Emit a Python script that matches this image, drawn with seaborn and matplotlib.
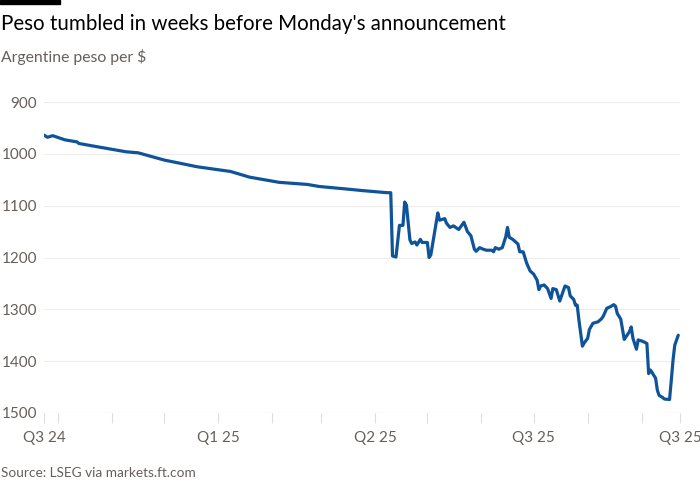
import pandas as pd
import matplotlib.pyplot as plt
import matplotlib.dates as mdates
from matplotlib.ticker import FixedLocator
import seaborn as sns

# Argentine peso per $
dates = [
    '2024-09-23', '2024-09-25', '2024-09-28', '2024-10-05', '2024-10-12', '2024-10-13',
    '2024-10-23', '2024-11-09', '2024-11-16', '2024-12-01', '2024-12-20', '2025-01-08',
    '2025-01-19', '2025-02-05', '2025-02-21', '2025-02-28', '2025-03-16', '2025-03-25',
    '2025-04-08', '2025-04-10', '2025-04-11', '2025-04-13', '2025-04-15', '2025-04-17',
    '2025-04-18', '2025-04-19', '2025-04-21', '2025-04-22', '2025-04-24', '2025-04-25',
    '2025-04-27', '2025-04-28', '2025-05-01', '2025-05-02', '2025-05-03', '2025-05-07',
    '2025-05-08', '2025-05-11', '2025-05-12', '2025-05-14', '2025-05-16', '2025-05-19',
    '2025-05-22', '2025-05-24', '2025-05-26', '2025-05-28', '2025-05-29', '2025-05-31',
    '2025-06-02', '2025-06-04', '2025-06-07', '2025-06-08', '2025-06-09', '2025-06-11',
    '2025-06-13', '2025-06-15', '2025-06-16', '2025-06-17', '2025-06-19', '2025-06-21',
    '2025-06-22', '2025-06-23', '2025-06-25', '2025-06-27', '2025-06-29', '2025-07-01',
    '2025-07-03', '2025-07-04', '2025-07-05', '2025-07-07', '2025-07-09', '2025-07-11',
    '2025-07-12', '2025-07-14', '2025-07-16', '2025-07-19', '2025-07-21', '2025-07-22',
    '2025-07-24', '2025-07-25', '2025-07-26', '2025-07-27', '2025-07-29', '2025-07-30',
    '2025-08-01', '2025-08-02', '2025-08-04', '2025-08-07', '2025-08-09', '2025-08-10',
    '2025-08-12', '2025-08-14', '2025-08-16', '2025-08-17', '2025-08-18', '2025-08-20',
    '2025-08-22', '2025-08-23', '2025-08-25', '2025-08-26', '2025-08-27', '2025-08-29',
    '2025-08-30', '2025-09-01', '2025-09-03', '2025-09-04', '2025-09-05', '2025-09-06',
    '2025-09-07', '2025-09-09', '2025-09-10', '2025-09-11', '2025-09-13', '2025-09-14',
    '2025-09-17', '2025-09-18', '2025-09-19', '2025-09-20', '2025-09-22',
]
peso = [
    964, 968, 965, 973, 977, 980,
    986, 996, 998, 1012, 1025, 1034,
    1045, 1055, 1059, 1063, 1068, 1071,
    1075, 1075, 1197, 1199, 1138, 1138,
    1093, 1099, 1166, 1173, 1170, 1176,
    1165, 1171, 1171, 1200, 1195, 1114,
    1128, 1125, 1134, 1142, 1139, 1146,
    1132, 1150, 1158, 1184, 1188, 1181,
    1184, 1186, 1186, 1189, 1181, 1184,
    1181, 1160, 1142, 1161, 1165, 1171,
    1174, 1189, 1189, 1211, 1226, 1232,
    1244, 1262, 1255, 1253, 1260, 1279,
    1260, 1262, 1284, 1255, 1258, 1274,
    1281, 1292, 1292, 1321, 1371, 1365,
    1356, 1339, 1327, 1324, 1318, 1313,
    1298, 1295, 1291, 1294, 1308, 1319,
    1358, 1353, 1343, 1334, 1356, 1377,
    1359, 1361, 1364, 1366, 1424, 1417,
    1422, 1433, 1456, 1466, 1470, 1473,
    1474, 1437, 1398, 1369, 1350,
]

tick_labels = ['Q3 24', 'Q1 25', 'Q2 25', 'Q3 25', 'Q3 25']
label_dates = ['2024-09-23', '2025-01-01', '2025-04-01', '2025-07-01', '2025-09-23']
y_ticks = [900, 1000, 1100, 1200, 1300, 1400, 1500]

df = pd.DataFrame({'date': pd.to_datetime(dates), 'peso': peso})

sns.set_style("white")
plt.rcParams['font.family'] = ['Lato', 'DejaVu Sans']

grey = '#66605c'
fig = plt.figure(figsize=(7, 5), dpi=100)
ax = fig.add_axes([44 / 700, 87 / 500, 636 / 700, 311 / 500])

sns.lineplot(data=df, x='date', y='peso', color='#0f5499', linewidth=2.3, ax=ax)

start, end = pd.Timestamp(label_dates[0]), pd.Timestamp(label_dates[-1])
ax.set_xlim(start, end)
ax.set_ylim(1500, 900)

# monthly ticks, quarter labels
months = list(pd.date_range('2024-10-01', '2025-09-01', freq='MS'))
tick_pos = [start] + months + [end]
ax.xaxis.set_major_locator(FixedLocator(mdates.date2num(tick_pos)))
lab_map = {pd.Timestamp(d): l for d, l in zip(label_dates, tick_labels)}
ax.set_xticklabels([lab_map.get(t, '') for t in tick_pos])
ax.tick_params(axis='x', length=7, width=0.8, color='#e0dcd8', labelcolor=grey,
               labelsize=11, pad=6, bottom=True)

ax.set_yticks(y_ticks)
ax.set_yticklabels([str(v) for v in y_ticks])
ax.tick_params(axis='y', length=0, labelcolor=grey, labelsize=11, pad=5)
ax.grid(axis='y', color='#efedea', linewidth=0.8)
ax.grid(axis='x', visible=False)
for s in ['top', 'right', 'left', 'bottom']:
    ax.spines[s].set_visible(False)
ax.axhline(1500, color='#e0dcd8', linewidth=0.8, zorder=1)
ax.set_xlabel('')
ax.set_ylabel('')

fig.add_artist(plt.Rectangle((0, 496 / 500), 60 / 700, 4 / 500, color='black',
                             transform=fig.transFigure))
fig.text(1 / 700, 1 - 30 / 500, "Peso tumbled in weeks before Monday's announcement",
         fontsize=14.8, color='#000000', va='baseline')
fig.text(1 / 700, 1 - 62 / 500, "Argentine peso per $", fontsize=11.3, color=grey, va='baseline')
fig.text(1 / 700, 1 - 477 / 500, "Source: LSEG via markets.ft.com", fontsize=9.8, color=grey,
         va='baseline')

plt.savefig('out.png', dpi=100)
